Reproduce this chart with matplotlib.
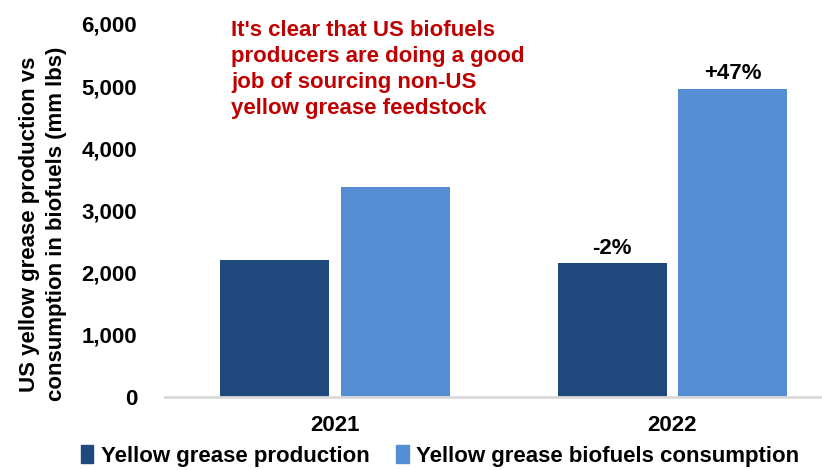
import matplotlib.pyplot as plt
import numpy as np
from matplotlib.patches import Patch

plt.rcParams['font.family'] = ['Liberation Sans', 'DejaVu Sans']
plt.rcParams['font.weight'] = 'bold'

years = ['2021', '2022']
production = [2200, 2150]
consumption = [3380, 4960]
prod_labels = [None, '-2%']
cons_labels = [None, '+47%']
series_names = ['Yellow grease production', 'Yellow grease biofuels consumption']
note = "It's clear that US biofuels\nproducers are doing a good\njob of sourcing non-US\nyellow grease feedstock"

dark = '#1F497D'
light = '#558ED5'
fs = 16

fig = plt.figure(figsize=(8.22, 4.70), dpi=100)
ax = fig.add_axes([0.2007, 0.155, 0.80, 0.794])

x = np.arange(len(years))
w = 0.323
gap = 0.033
ax.bar(x - (w + gap) / 2, production, w, color=dark)
ax.bar(x + (w + gap) / 2, consumption, w, color=light)

# percentage change labels on the 2022 bars
for i in range(len(years)):
    if prod_labels[i]:
        ax.text(x[i] - (w + gap) / 2, production[i] + 70, prod_labels[i],
                ha='center', va='bottom', fontsize=fs, fontweight='bold')
    if cons_labels[i]:
        ax.text(x[i] + (w + gap) / 2, consumption[i] + 70, cons_labels[i],
                ha='center', va='bottom', fontsize=fs, fontweight='bold')

ax.set_xlim(-0.504, 1.445)
ax.set_ylim(0, 6000)
ax.set_yticks(range(0, 6001, 1000))
ax.set_yticklabels([f'{v:,}' for v in range(0, 6001, 1000)], fontsize=fs, fontweight='bold')
ax.set_xticks(x)
ax.set_xticklabels(years, fontsize=fs, fontweight='bold')
ax.tick_params(axis='y', length=0, pad=20)
ax.tick_params(axis='x', length=0, pad=13)

for s in ['top', 'right', 'left']:
    ax.spines[s].set_visible(False)
ax.spines['bottom'].set_color('#D9D9D9')
ax.spines['bottom'].set_linewidth(2)

fig.text(43 / 822, 1 - 224 / 470,
         'US yellow grease production vs\nconsumption in biofuels (mm lbs)',
         rotation=90, ha='center', va='center', fontsize=fs, fontweight='bold',
         linespacing=1.35)

fig.text(231 / 822, 1 - 20 / 470, note, color='#C00000', fontsize=fs,
         fontweight='bold', ha='left', va='top', linespacing=1.32)

handles = [Patch(color=dark), Patch(color=light)]
fig.legend(handles, series_names, loc='center left', bbox_to_anchor=(72 / 822, 1 - 456 / 470),
           ncol=2, frameon=False, fontsize=fs, handlelength=0.55, handleheight=0.85,
           handletextpad=0.35, columnspacing=1.2, borderaxespad=0)

fig.savefig('out.png', dpi=100)
